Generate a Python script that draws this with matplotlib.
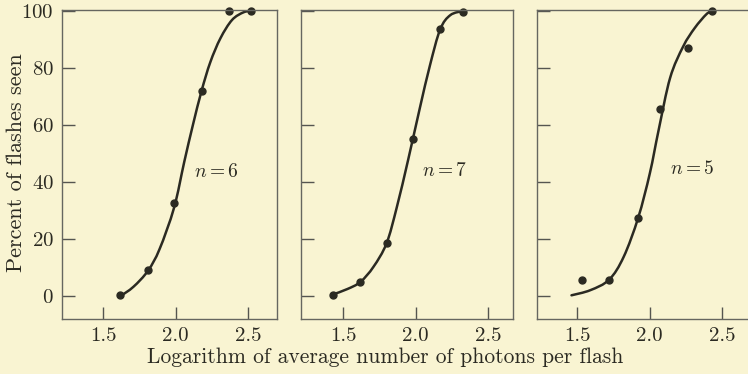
import matplotlib
matplotlib.use("Agg")
import matplotlib.pyplot as plt
from matplotlib.path import Path
from matplotlib.patches import PathPatch

plt.rcParams['font.family'] = ['cmr10', 'DejaVu Serif']
plt.rcParams['mathtext.fontset'] = 'cm'
plt.rcParams['axes.formatter.use_mathtext'] = True

# measured points (log photons, percent seen)
pts6_x = [1.62, 1.81, 1.99, 2.18, 2.37, 2.52]
pts6_y = [0.5, 9, 32.5, 72, 100, 100]
pts7_x = [1.43, 1.62, 1.80, 1.98, 2.17, 2.33]
pts7_y = [0.5, 5, 18.5, 55, 93.5, 99.5]
pts5_x = [1.53, 1.72, 1.92, 2.07, 2.26, 2.43]
pts5_y = [5.5, 5.5, 27.5, 65.5, 87, 99.8]

# fitted curves
curve6_x = [1.62, 1.71, 1.81, 1.89, 1.99, 2.06, 2.12, 2.18, 2.24, 2.31, 2.39, 2.47, 2.53]
curve6_y = [0, 3.3, 8.9, 16.5, 31, 47, 60, 72, 82, 90.4, 96.8, 99.5, 100]
curve7_x = [1.43, 1.53, 1.62, 1.71, 1.80, 1.87, 1.95, 2.03, 2.10, 2.17, 2.24, 2.33]
curve7_y = [0.6, 2.5, 5, 10.3, 18.5, 31, 48, 66, 81, 93.5, 98.5, 100]
curve5_x = [1.46, 1.59, 1.72, 1.82, 1.92, 2.00, 2.06, 2.14, 2.23, 2.31, 2.39, 2.43]
curve5_y = [0.3, 2.1, 5.8, 13.8, 27.5, 43, 58, 76.5, 87.5, 94, 98.8, 100]

labels = ['$n=6$', '$n=7$', '$n=5$']
label_pos = [(2.28, 43.5), (2.20, 44), (2.29, 44.5)]

y_ticks = [0, 20, 40, 60, 80, 100]
x_ticks = [1.5, 2.0, 2.5]
x_ticklabels = ['1.5', '2.0', '2.5']

bg = '#f9f4d2'
ink = '#2b2a22'


def smooth_path(xs, ys):
    # Catmull-Rom through the read points, drawn as cubic Bezier segments
    n = len(xs)
    verts = [(xs[0], ys[0])]
    codes = [Path.MOVETO]
    for k in range(n - 1):
        x0, y0 = xs[max(k - 1, 0)], ys[max(k - 1, 0)]
        x1, y1 = xs[k], ys[k]
        x2, y2 = xs[k + 1], ys[k + 1]
        x3, y3 = xs[min(k + 2, n - 1)], ys[min(k + 2, n - 1)]
        c1 = (x1 + (x2 - x0) / 6, y1 + (y2 - y0) / 6)
        c2 = (x2 - (x3 - x1) / 6, y2 - (y3 - y1) / 6)
        verts += [c1, c2, (x2, y2)]
        codes += [Path.CURVE4] * 3
    return Path(verts, codes)


fig = plt.figure(figsize=(7.48, 3.74), dpi=100)
fig.patch.set_facecolor(bg)

boxes = [[0.0829, 0.1471, 0.2874, 0.8262],
         [0.4024, 0.1471, 0.2830, 0.8262],
         [0.7175, 0.1471, 0.2850, 0.8262]]
xlims = [(1.217, 2.70), (1.21, 2.67), (1.22, 2.69)]
pts = [(pts6_x, pts6_y), (pts7_x, pts7_y), (pts5_x, pts5_y)]
curves = [(curve6_x, curve6_y), (curve7_x, curve7_y), (curve5_x, curve5_y)]

for i in range(3):
    ax = fig.add_axes(boxes[i])
    ax.set_facecolor(bg)
    ax.add_patch(PathPatch(smooth_path(*curves[i]), facecolor='none', edgecolor=ink,
                           lw=1.8, capstyle='round', clip_on=False))
    ax.plot(pts[i][0], pts[i][1], 'o', color=ink, ms=5, clip_on=False)
    ax.text(label_pos[i][0], label_pos[i][1], labels[i], fontsize=14, color=ink,
            ha='center', va='center')
    ax.set_xlim(xlims[i])
    ax.set_ylim(-8, 100.3)
    ax.set_xticks(x_ticks)
    ax.set_xticklabels(x_ticklabels)
    ax.set_yticks(y_ticks)
    ax.tick_params(direction='in', length=9, width=1, color='#555550',
                   labelsize=15, labelcolor=ink, top=False, right=False, pad=6)
    for s in ax.spines.values():
        s.set_color('#666660')
        s.set_linewidth(1)
    if i > 0:
        ax.set_yticklabels([])

fig.text(0.0214, 0.565, 'Percent of flashes seen', fontsize=16, color=ink,
         rotation=90, ha='center', va='center')
fig.text(0.515, 0.045, 'Logarithm of average number of photons per flash', fontsize=15.5,
         color=ink, ha='center', va='center')

fig.savefig('out.png', dpi=100, facecolor=bg)
